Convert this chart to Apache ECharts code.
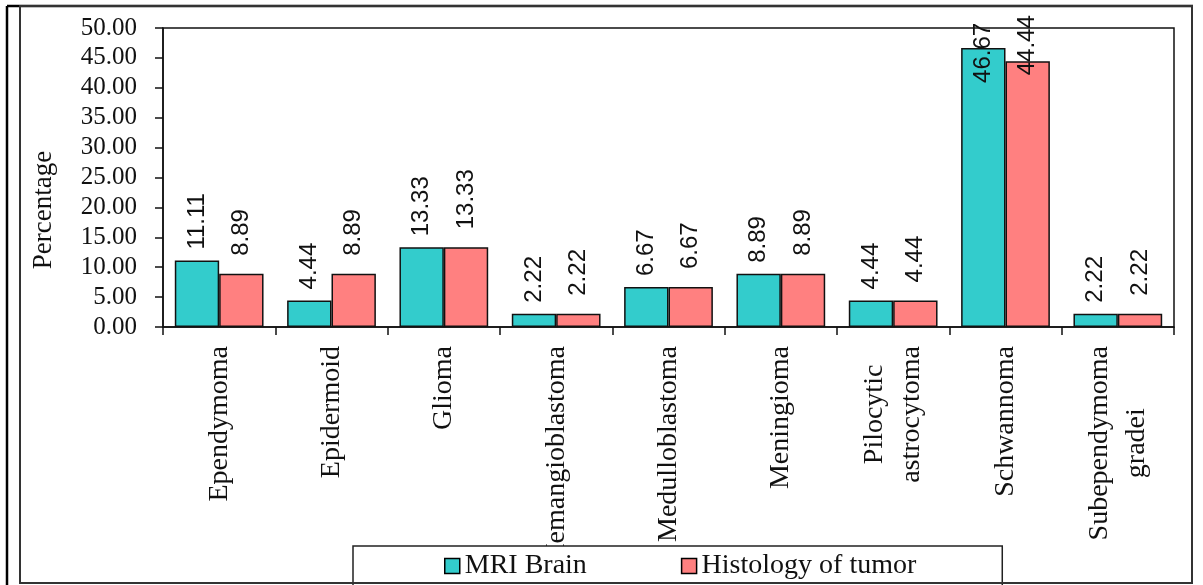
<!DOCTYPE html>
<html>
<head>
<meta charset="utf-8">
<title>MRI Brain vs Histology of tumor</title>
<script src="https://cdn.jsdelivr.net/npm/echarts@6/dist/echarts.min.js"></script>
<style>
  html, body { margin: 0; padding: 0; background: #fff; }
  #chart { width: 1203px; height: 585px; }
</style>
</head>
<body>
<div id="chart"></div>
<script>
// Tumour types (category axis)
const categories = [
  'Ependymoma', 'Epidermoid', 'Glioma', 'Hemangioblastoma', 'Medulloblastoma',
  'Meningioma', 'Pilocytic\nastrocytoma', 'Schwannoma', 'Subependymoma\ngradei'
];
// Percentage of cases per tumour type
const mriBrain = [11.11, 4.44, 13.33, 2.22, 6.67, 8.89, 4.44, 46.67, 2.22];
const histology = [8.89, 8.89, 13.33, 2.22, 6.67, 8.89, 4.44, 44.44, 2.22];
const seriesNames = ['MRI Brain', 'Histology of tumor'];
// Y axis range
const yMin = 0, yMax = 50, yStep = 5;

const SERIF = '"Liberation Serif", "Times New Roman", serif';
const SANS = '"Liberation Sans", Arial, sans-serif';
const INK = '#111';

// Values near the top of the scale have their labels pulled down into the bar
function toData(values, topDistance) {
  return values.map(v => v > 40
    ? { value: v, label: { distance: topDistance(v) } }
    : v);
}

const chart = echarts.init(document.getElementById('chart'), null, { renderer: 'canvas' });

const barLabel = (dx) => ({
  show: true,
  position: 'top',
  rotate: 90,
  align: 'left',
  verticalAlign: 'middle',
  distance: 18,
  offset: [dx, 0],
  fontFamily: SANS,
  fontSize: 24,
  color: INK,
  formatter: p => Number(p.value).toFixed(2)
});

chart.setOption({
  animation: false,
  backgroundColor: '#fff',
  grid: {
    left: 163, top: 28, right: 29, bottom: 258,
    show: true, borderColor: '#111', borderWidth: 1.5, backgroundColor: 'transparent'
  },
  legend: {
    data: seriesNames,
    left: 353, top: 546,
    orient: 'horizontal',
    padding: [6, 86, 14, 91],
    itemGap: 94,
    itemWidth: 15, itemHeight: 15,
    icon: 'rect',
    backgroundColor: '#fff',
    borderColor: '#222', borderWidth: 1.5,
    z: 20,
    itemStyle: { borderColor: '#000', borderWidth: 1.5 },
    textStyle: { fontFamily: SERIF, fontSize: 28, color: INK }
  },
  xAxis: {
    type: 'category',
    data: categories,
    axisLine: { lineStyle: { color: '#111', width: 1.5 } },
    axisTick: { show: true, alignWithLabel: false, length: 8, lineStyle: { color: '#111', width: 1.5 } },
    axisLabel: {
      interval: 0,
      rotate: 90,
      margin: 19,
      color: INK,
      fontFamily: SERIF,
      fontSize: 28,
      formatter: v => v.split('\n').map(s => '{c|' + s + '}').join('\n'),
      rich: { c: { align: 'center', fontFamily: SERIF, fontSize: 28, lineHeight: 37, color: INK } }
    },
    splitLine: { show: false }
  },
  yAxis: {
    type: 'value',
    min: yMin, max: yMax, interval: yStep,
    axisLine: { show: true, lineStyle: { color: '#111', width: 1.5 } },
    axisTick: { show: true, inside: false, length: 8, lineStyle: { color: '#111', width: 1.5 } },
    axisLabel: {
      margin: 26,
      color: INK,
      fontFamily: SERIF,
      fontSize: 25,
      formatter: v => v.toFixed(2)
    },
    splitLine: { show: false }
  },
  series: [
    {
      name: seriesNames[0],
      type: 'bar',
      data: toData(mriBrain, () => -28),
      barGap: '0%',
      barCategoryGap: '21%',
      itemStyle: { color: '#33CCCC', borderColor: '#111', borderWidth: 1.5 },
      label: barLabel(-7)
    },
    {
      name: seriesNames[1],
      type: 'bar',
      data: toData(histology, () => -14),
      barGap: '0%',
      barCategoryGap: '21%',
      itemStyle: { color: '#FF8080', borderColor: '#111', borderWidth: 1.5 },
      label: barLabel(0)
    }
  ],
  graphic: [
    // Y axis title
    {
      type: 'text', x: 44, y: 210, rotation: Math.PI / 2,
      style: { text: 'Percentage', fontFamily: SERIF, fontSize: 27, fill: INK, align: 'center', verticalAlign: 'middle' }
    },
    // Cell frame around the figure
    { type: 'line', shape: { x1: 7, y1: 6, x2: 1193, y2: 6 }, style: { stroke: '#000', lineWidth: 2.5 } },
    { type: 'line', shape: { x1: 7, y1: 6, x2: 7, y2: 585 }, style: { stroke: '#000', lineWidth: 2.5 } },
    { type: 'rect', shape: { x: 20, y: 6, width: 1172, height: 577 }, style: { fill: 'none', stroke: '#333', lineWidth: 2 }, z: 30 }
  ]
});
</script>
</body>
</html>
